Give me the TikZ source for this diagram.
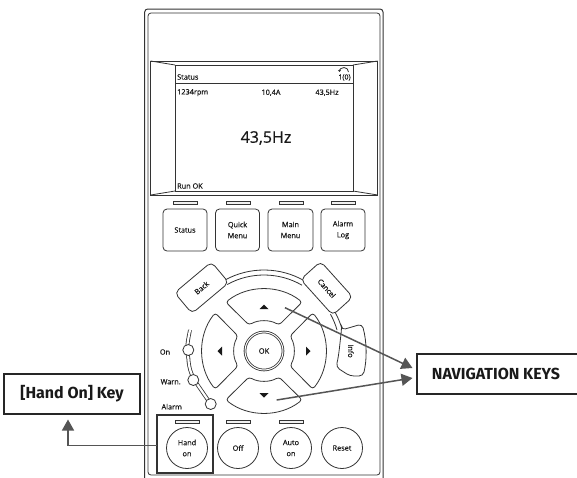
\documentclass[tikz,border=0pt]{standalone}
\usepackage{fontspec}
\setmainfont{Open Sans}[RawFeature={embolden=0.5}]
\newfontfamily\calloutfont{Fira Sans}
\usetikzlibrary{arrows.meta}
\definecolor{keyline}{HTML}{333333}
\definecolor{pointer}{HTML}{555555}
\definecolor{ledgray}{HTML}{F0F0F0}
\begin{document}
\begin{tikzpicture}[
  x=1pt, y=1pt,
  panel/.style={draw=keyline, line width=0.8pt},
  lbl/.style={font=\fontsize{7.3}{9}\selectfont, text=black!90, inner sep=0pt, align=center},
  led/.style={panel, fill=ledgray, minimum width=24pt, minimum height=3.5pt, inner sep=0pt},
  softkey/.style={panel, lbl, rounded corners=4pt, minimum height=42pt},
  roundkey/.style={panel, lbl, circle, minimum size=41pt},
  lamp/.style={panel, circle, fill=white, minimum size=11pt, inner sep=0pt},
  wingkey/.style={panel, lbl, fill=white, rounded corners=5pt, minimum width=48pt, minimum height=27pt},
  callout/.style={draw=black!85, line width=1.2pt, font=\calloutfont\bfseries\fontsize{16}{18}\selectfont, text=black!90, minimum height=40pt, inner sep=0pt},
  pointerline/.style={draw=pointer, line width=1.5pt, -{Triangle[length=11pt,width=12pt]}}
]
\useasboundingbox (0,0) rectangle (577,-477);
\fill[white] (0,0) rectangle (577,-477);
\draw[panel, line width=1pt, rounded corners=3pt] (144.7,-490) -- (144.7,-9) -- (383,-9) -- (383,-490);
\draw[panel, rounded corners=3pt] (148,-475) -- (148,-13) -- (380,-13) -- (380,-475) -- cycle;
\draw[panel] (150.7,-61) rectangle (377.7,-195);
\draw[panel] (175,-65) rectangle (353,-191);
\draw[panel] (150.7,-61) -- (175,-65);
\draw[panel] (377.7,-61) -- (353,-65);
\draw[panel] (150.7,-195) -- (175,-191);
\draw[panel] (377.7,-195) -- (353,-191);
\draw[panel] (175,-83) -- (353,-83);
\node[lbl, anchor=west] (status) at (177,-77) {Status};
\node[lbl, font=\fontsize{7}{9}\selectfont] (output) at (344.5,-77.5) {1(0)};
\draw[panel, -{Triangle[length=2pt,width=3pt]}] (348.5,-72) arc[start angle=0, end angle=180, radius=4.5];
\node[lbl, anchor=west] (rpm) at (177,-92.7) {1234rpm};
\node[lbl] (amps) at (271,-92.7) {10,4A};
\node[lbl] (freq) at (327,-92.7) {43,5Hz};
\node[lbl, font=\fontsize{16}{18}\selectfont] (bigfreq) at (266,-138) {43,5Hz};
\node[lbl, anchor=west] (runok) at (177,-186) {Run OK};
\foreach \name/\xpos in {a/185, b/238, c/291, d/343}
  \node[led] (led\name) at (\xpos,-203) {};
\node[softkey, minimum width=44pt] (statuskey) at (185,-230) {Status};
\node[softkey, minimum width=44pt] (quickkey) at (237.5,-230) {Quick\\[2pt]Menu};
\node[softkey, minimum width=45pt] (mainkey) at (290.5,-230) {Main\\[2pt]Menu};
\node[softkey, minimum width=44pt] (alarmkey) at (343,-230) {Alarm\\[2pt]Log};
\draw[panel] (264,-351) ++(119:81) arc[start angle=119, end angle=60, radius=81];
\draw[panel] (264,-351) ++(119:76) arc[start angle=119, end angle=60, radius=76];
\draw[panel] (264,-351) ++(29:81) arc[start angle=29, end angle=16, radius=81];
\draw[panel] (264,-351) ++(29:76) arc[start angle=29, end angle=16, radius=76];
\foreach \ang in {0,90,180,270} {
  \begin{scope}[shift={(264,-351)}, rotate=\ang]
    \draw[panel, rounded corners=3pt] (128:62) arc[start angle=128, end angle=52, radius=62]
      -- (60:30) arc[start angle=60, end angle=120, radius=30] -- cycle;
    \fill[black!90] (-4.5,42) -- (4.5,42) -- (0,46.5) -- cycle;
  \end{scope}
}
\node[panel, circle, double, double distance=1pt, minimum size=38pt, inner sep=0pt, lbl, font=\fontsize{7.5}{9}\selectfont] (okkey) at (264,-351) {OK};
\node[wingkey, rotate=40] (backkey) at (201.7,-287.7) {Back};
\node[wingkey, rotate=-48] (cancelkey) at (326.7,-288.3) {Cancel};
\draw[panel, fill=white, rounded corners=4pt] (341.5,-330) -- (362,-324) .. controls (367,-342) and (367,-360) .. (363,-376) -- (350,-376) -- (336,-367) .. controls (339,-355) and (340,-342) .. cycle;
\node[lbl, rotate=-90] (infokey) at (351,-351) {Info};
\draw[panel, double, double distance=2.2pt] (190,-330) .. controls (188,-340) and (186,-348) .. (188.3,-358)
  .. controls (189,-370) and (192,-376) .. (197,-384) -- (210.7,-404);
\node[lamp] (lampon) at (188.3,-350) {};
\node[lamp] (lampwarn) at (193.3,-380) {};
\node[lamp] (lampalarm) at (210.7,-404) {};
\node[lbl] (onlabel) at (165,-352) {On};
\node[lbl] (warnlabel) at (170.7,-381.7) {Warn.};
\node[lbl] (alarmlabel) at (171.7,-406.7) {Alarm};
\foreach \name/\xpos in {e/187, f/238, g/291}
  \node[led] (led\name) at (\xpos,-422) {};
\node[roundkey] (handkey) at (187,-448) {Hand\\[2pt]on};
\node[roundkey] (offkey) at (238,-448) {Off};
\node[roundkey] (autokey) at (291,-448) {Auto\\[2pt]on};
\node[roundkey] (resetkey) at (342,-448) {Reset};
\node[draw=keyline, line width=1.6pt, minimum width=56pt, minimum height=58pt, inner sep=0pt] (handbox) at (185,-444) {};
\node[callout, minimum width=136pt] (handcallout) at (72,-394) {[Hand On] Key};
\node[callout, minimum width=163pt] (navcallout) at (498.5,-374) {\hspace*{-5pt}NAVIGATION KEYS};
\coordinate (handstart) at (157,-445.7);
\coordinate (handtip) at (68,-419.5);
\coordinate (upstart) at (285,-307.7);
\coordinate (downstart) at (276.7,-400);
\coordinate (uptip) at (412.5,-368);
\coordinate (downtip) at (412.5,-378);
\draw[pointerline] (handstart) -| (handtip);
\draw[pointerline] (upstart) -- (uptip);
\draw[pointerline] (downstart) -- (downtip);
\end{tikzpicture}
\end{document}
